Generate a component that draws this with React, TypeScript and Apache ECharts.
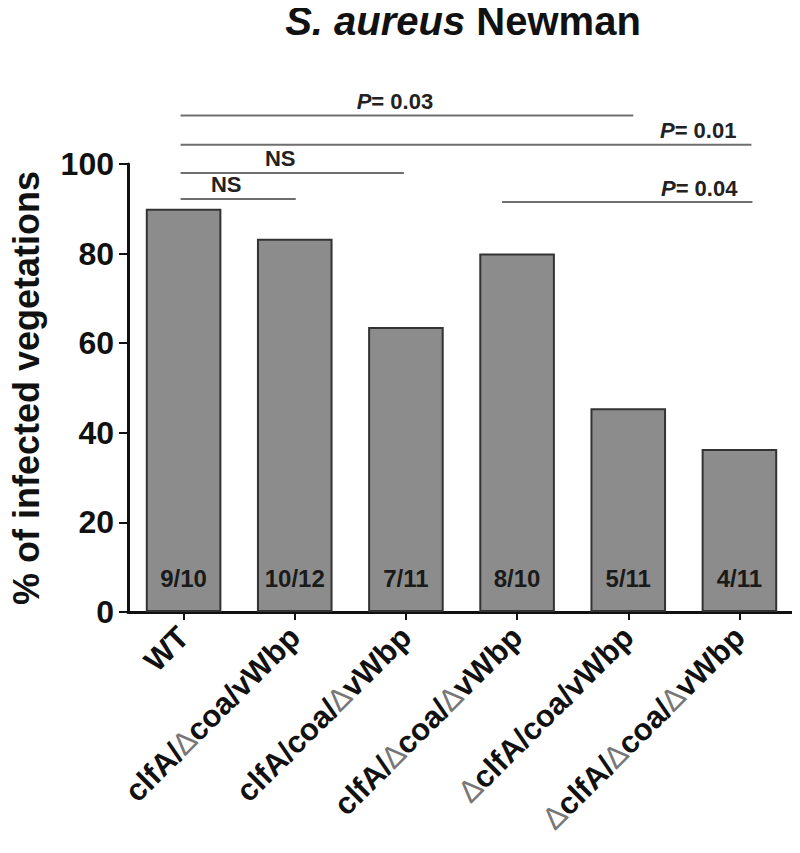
import React, { useEffect, useRef } from "react";
import * as echarts from "echarts";

const categories = [
  "WT",
  "clfA/Δcoa/vWbp",
  "clfA/coa/ΔvWbp",
  "clfA/Δcoa/ΔvWbp",
  "ΔclfA/coa/vWbp",
  "ΔclfA/Δcoa/ΔvWbp",
];
const values = [90, 83.3, 63.6, 80, 45.5, 36.4];
const fractions = ["9/10", "10/12", "7/11", "8/10", "5/11", "4/11"];
const yTicks = [0, 20, 40, 60, 80, 100];

const sigStart = [0, 0, 0, 0, 3];
const sigEnd = [4, 5, 2, 1, 5];
const sigY = [110.8, 104.3, 98.0, 92.2, 91.5];
const sigLabels = ["P= 0.03", "P= 0.01", "NS", "NS", "P= 0.04"];
const sigAlign = ["center", "right", "center", "center", "right"];

// pixel layout tweaks for bracket ends
const startOff = [-3, -3, -3, -3, -15];
const endOff = [5, 12, -2, 1, 13];

const FONT = "Liberation Sans, Arial, sans-serif";

export default function App() {
  const ref = useRef<HTMLDivElement>(null);
  useEffect(() => {
    if (!ref.current) return;
    const chart = echarts.init(ref.current, undefined, { renderer: "svg" });
    const sigData = sigStart.map((s, i) => [s, sigEnd[i], sigY[i], i]);
    chart.setOption({
      animation: false,
      backgroundColor: "#ffffff",
      title: {
        text: "{i|S. aureus} Newman",
        left: 458,
        textAlign: "center",
        top: -4,
        textStyle: {
          fontFamily: FONT,
          fontSize: 40,
          fontWeight: "bold",
          color: "#111",
          rich: {
            i: { fontFamily: FONT, fontSize: 40, fontWeight: "bold", fontStyle: "italic", color: "#111" },
          },
        },
      },
      grid: { left: 123, right: 5, top: 164, bottom: 241 },
      xAxis: {
        type: "category",
        data: categories,
        axisLine: { lineStyle: { color: "#111", width: 3 } },
        axisTick: { show: true, alignWithLabel: true, length: 8, lineStyle: { color: "#111", width: 2 } },
        axisLabel: {
          rotate: 45,
          margin: 20,
          interval: 0,
          fontFamily: FONT,
          fontSize: 31,
          fontWeight: "bold",
          color: "#111",
          formatter: (v: string) => v.split("Δ").join("{d|∆}"),
          rich: {
            d: { fontFamily: FONT, fontSize: 31, fontWeight: "normal", color: "#777" },
          },
        },
      },
      yAxis: {
        type: "value",
        min: 0,
        max: 100,
        interval: 20,
        name: "% of infected vegetations",
        nameLocation: "middle",
        nameGap: 84,
        nameTextStyle: { fontFamily: FONT, fontSize: 36, fontWeight: "bold", color: "#111" },
        axisLine: { show: true, lineStyle: { color: "#111", width: 3 } },
        axisTick: { show: true, length: 9, lineStyle: { color: "#111", width: 2 } },
        splitLine: { show: false },
        axisLabel: {
          margin: 14,
          fontFamily: FONT,
          fontSize: 32,
          fontWeight: "bold",
          color: "#111",
          formatter: (v: number) => (yTicks.includes(v) ? String(v) : ""),
        },
      },
      series: [
        {
          type: "bar",
          data: values,
          barCategoryGap: "32%",
          itemStyle: { color: "#8c8c8c", borderColor: "#333", borderWidth: 2 },
          label: {
            show: true,
            position: "insideBottom",
            distance: 22,
            formatter: (p: any) => fractions[p.dataIndex],
            fontFamily: FONT,
            fontSize: 24,
            fontWeight: "bold",
            color: "#1a1a1a",
          },
        },
        {
          type: "custom",
          clip: false,
          silent: true,
          data: sigData,
          renderItem: (params: any, api: any) => {
            const i = api.value(3);
            const p1 = api.coord([api.value(0), api.value(2)]);
            const p2 = api.coord([api.value(1), api.value(2)]);
            const x1 = p1[0] + startOff[i];
            const x2 = p2[0] + endOff[i];
            const y = p1[1];
            const align = sigAlign[i];
            const lbl = sigLabels[i];
            const txt = lbl.startsWith("P") ? "{i|P}" + lbl.slice(1) : lbl;
            return {
              type: "group",
              children: [
                {
                  type: "line",
                  shape: { x1, y1: y, x2, y2: y },
                  style: { stroke: "#6e6e6e", lineWidth: 2 },
                },
                {
                  type: "text",
                  x: align === "center" ? (x1 + x2) / 2 - 12 : x2 - 15,
                  y: y - 3,
                  style: {
                    text: txt,
                    align: align,
                    verticalAlign: "bottom",
                    fontFamily: FONT,
                    fontSize: 22,
                    fontWeight: "bold",
                    fill: "#222",
                    rich: {
                      i: { fontFamily: FONT, fontSize: 22, fontWeight: "bold", fontStyle: "italic", fill: "#222" },
                    },
                  },
                },
              ],
            };
          },
        },
      ],
    });
    return () => chart.dispose();
  }, []);
  return <div ref={ref} style={{ width: 800, height: 853, margin: -8 }} />;
}
